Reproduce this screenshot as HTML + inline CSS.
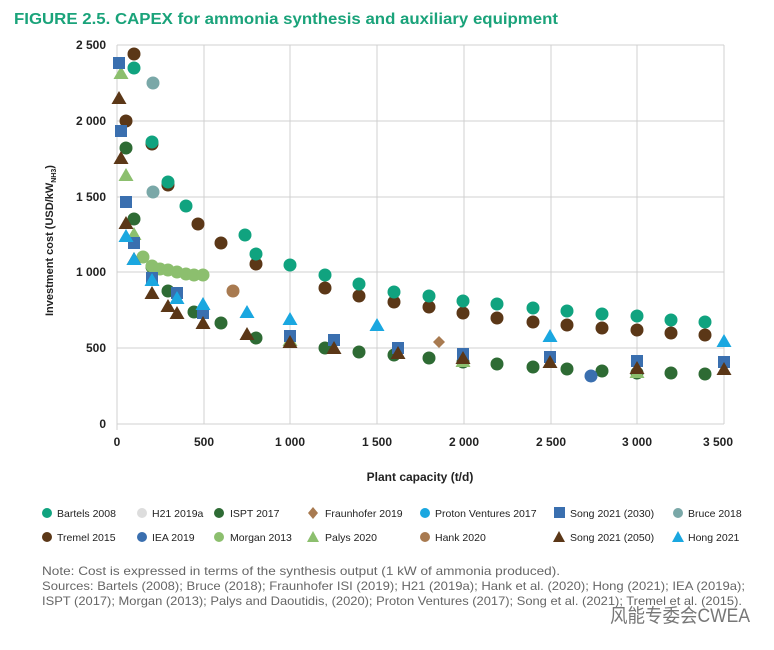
<!DOCTYPE html>
<html><head><meta charset="utf-8"><style>
body{margin:0;background:#fff;width:774px;height:645px;overflow:hidden;font-family:"Liberation Sans","Noto Sans CJK SC",sans-serif}
</style></head><body>
<svg width="774" height="645" xmlns="http://www.w3.org/2000/svg" font-family="Liberation Sans, Noto Sans CJK SC, sans-serif">
<defs>
<g id="c"><circle r="6.5"/></g>
<g id="s"><rect x="-6" y="-6" width="12" height="12"/></g>
<g id="t"><polygon points="0,-7 7.5,6 -7.5,6"/></g>
</defs>
<text x="14" y="24" font-size="15.5" font-weight="bold" fill="#1aa37a" textLength="544" lengthAdjust="spacingAndGlyphs">FIGURE 2.5.   CAPEX for ammonia synthesis and auxiliary equipment</text>
<g stroke="#d0d0d0" stroke-width="1">
<line x1="117" y1="45" x2="724" y2="45"/><line x1="117" y1="121" x2="724" y2="121"/><line x1="117" y1="197" x2="724" y2="197"/><line x1="117" y1="272" x2="724" y2="272"/><line x1="117" y1="348" x2="724" y2="348"/>
<line x1="204" y1="45" x2="204" y2="424"/><line x1="290" y1="45" x2="290" y2="424"/><line x1="377" y1="45" x2="377" y2="424"/><line x1="464" y1="45" x2="464" y2="424"/><line x1="551" y1="45" x2="551" y2="424"/><line x1="637" y1="45" x2="637" y2="424"/><line x1="724" y1="45" x2="724" y2="424"/>
<line x1="117" y1="45" x2="117" y2="430"/><line x1="117" y1="424" x2="724" y2="424"/>
</g>
<g font-size="12" font-weight="bold" fill="#222" text-anchor="end">
<text x="106" y="49">2 500</text><text x="106" y="125">2 000</text><text x="106" y="201">1 500</text><text x="106" y="276">1 000</text><text x="106" y="352">500</text><text x="106" y="428">0</text>
</g>
<g font-size="12" font-weight="bold" fill="#222" text-anchor="middle">
<text x="117" y="446">0</text><text x="204" y="446">500</text><text x="290" y="446">1 000</text><text x="377" y="446">1 500</text><text x="464" y="446">2 000</text><text x="551" y="446">2 500</text><text x="637" y="446">3 000</text><text x="718" y="446">3 500</text>
<text x="420" y="481">Plant capacity (t/d)</text>
</g>
<text transform="translate(53,316) rotate(-90)" font-size="11" font-weight="bold" fill="#222">Investment cost (USD/kW<tspan font-size="7" dy="3">NH3</tspan><tspan dy="-3">)</tspan></text>

<g fill="#5b3717">
<use href="#c" x="134" y="54"/><use href="#c" x="126" y="121"/><use href="#c" x="152" y="144"/><use href="#c" x="168" y="185"/><use href="#c" x="198" y="224"/><use href="#c" x="221" y="243"/><use href="#c" x="256" y="264"/><use href="#c" x="325" y="288"/><use href="#c" x="359" y="296"/><use href="#c" x="394" y="302"/><use href="#c" x="429" y="307"/><use href="#c" x="463" y="313"/><use href="#c" x="497" y="318"/><use href="#c" x="533" y="322"/><use href="#c" x="567" y="325"/><use href="#c" x="602" y="328"/><use href="#c" x="637" y="330"/><use href="#c" x="671" y="333"/><use href="#c" x="705" y="335"/>
</g>
<g fill="#10a37f">
<use href="#c" x="134" y="68"/><use href="#c" x="152" y="142"/><use href="#c" x="168" y="182"/><use href="#c" x="186" y="206"/><use href="#c" x="245" y="235"/><use href="#c" x="256" y="254"/><use href="#c" x="290" y="265"/><use href="#c" x="325" y="275"/><use href="#c" x="359" y="284"/><use href="#c" x="394" y="292"/><use href="#c" x="429" y="296"/><use href="#c" x="463" y="301"/><use href="#c" x="497" y="304"/><use href="#c" x="533" y="308"/><use href="#c" x="567" y="311"/><use href="#c" x="602" y="314"/><use href="#c" x="637" y="316"/><use href="#c" x="671" y="320"/><use href="#c" x="705" y="322"/>
</g>
<g fill="#7aa8a8"><use href="#c" x="153" y="83"/><use href="#c" x="153" y="192"/></g>
<g fill="#a87a50"><use href="#c" x="233" y="291"/><polygon points="439,336 445,342 439,348 433,342"/></g>
<g fill="#2e6b34">
<use href="#c" x="126" y="148"/><use href="#c" x="134" y="219"/><use href="#c" x="152" y="267"/><use href="#c" x="168" y="291"/><use href="#c" x="194" y="312"/><use href="#c" x="221" y="323"/><use href="#c" x="256" y="338"/><use href="#c" x="325" y="348"/><use href="#c" x="359" y="352"/><use href="#c" x="394" y="355"/><use href="#c" x="429" y="358"/><use href="#c" x="463" y="362"/><use href="#c" x="497" y="364"/><use href="#c" x="533" y="367"/><use href="#c" x="567" y="369"/><use href="#c" x="602" y="371"/><use href="#c" x="637" y="373"/><use href="#c" x="671" y="373"/><use href="#c" x="705" y="374"/>
</g>
<g fill="#8cbf6e">
<use href="#c" x="143" y="257"/><use href="#c" x="152" y="266"/><use href="#c" x="160" y="269"/><use href="#c" x="168" y="270"/><use href="#c" x="177" y="272"/><use href="#c" x="186" y="274"/><use href="#c" x="194" y="275"/><use href="#c" x="203" y="275"/>
<use href="#t" x="121" y="73"/><use href="#t" x="126" y="175"/><use href="#t" x="134" y="234"/><use href="#t" x="290" y="340"/><use href="#t" x="463" y="361"/><use href="#t" x="637" y="372"/>
</g>
<g fill="#3a6faf">
<use href="#s" x="119" y="63"/><use href="#s" x="121" y="131"/><use href="#s" x="126" y="202"/><use href="#s" x="134" y="243"/><use href="#s" x="152" y="278"/><use href="#s" x="177" y="293"/><use href="#s" x="203" y="313"/><use href="#s" x="290" y="336"/><use href="#s" x="334" y="340"/><use href="#s" x="398" y="348"/><use href="#s" x="463" y="354"/><use href="#s" x="550" y="357"/><use href="#s" x="637" y="361"/><use href="#s" x="724" y="362"/>
<use href="#c" x="591" y="376"/>
</g>
<g fill="#5b3717">
<use href="#t" x="119" y="98"/><use href="#t" x="121" y="158"/><use href="#t" x="126" y="223"/><use href="#t" x="134" y="259"/><use href="#t" x="152" y="293"/><use href="#t" x="168" y="306"/><use href="#t" x="177" y="313"/><use href="#t" x="203" y="323"/><use href="#t" x="247" y="334"/><use href="#t" x="290" y="342"/><use href="#t" x="334" y="348"/><use href="#t" x="398" y="353"/><use href="#t" x="463" y="358"/><use href="#t" x="550" y="362"/><use href="#t" x="637" y="368"/><use href="#t" x="724" y="369"/>
</g>
<g fill="#1aa7e0">
<use href="#t" x="126" y="236"/><use href="#t" x="134" y="259"/><use href="#t" x="152" y="280"/><use href="#t" x="177" y="298"/><use href="#t" x="203" y="304"/><use href="#t" x="247" y="312"/><use href="#t" x="290" y="319"/><use href="#t" x="377" y="325"/><use href="#t" x="550" y="336"/><use href="#t" x="724" y="341"/>
</g>

<g font-size="10.5" fill="#222">
<circle cx="47" cy="513" r="5" fill="#10a37f"/><text x="57" y="517">Bartels 2008</text>
<circle cx="142" cy="513" r="5" fill="#ddd"/><text x="152" y="517">H21 2019a</text>
<circle cx="219" cy="513" r="5" fill="#2e6b34"/><text x="230" y="517">ISPT 2017</text>
<polygon points="313,507 318,513 313,519 308,513" fill="#a87a50"/><text x="325" y="517">Fraunhofer 2019</text>
<circle cx="425" cy="513" r="5" fill="#1aa7e0"/><text x="435" y="517">Proton Ventures 2017</text>
<rect x="554" y="507" width="11" height="11" fill="#3a6faf"/><text x="570" y="517">Song 2021 (2030)</text>
<circle cx="678" cy="513" r="5" fill="#7aa8a8"/><text x="688" y="517">Bruce 2018</text>
<circle cx="47" cy="537" r="5" fill="#5b3717"/><text x="57" y="541">Tremel 2015</text>
<circle cx="142" cy="537" r="5" fill="#3a6faf"/><text x="152" y="541">IEA 2019</text>
<circle cx="219" cy="537" r="5" fill="#8cbf6e"/><text x="230" y="541">Morgan 2013</text>
<polygon points="313,531 319,542 307,542" fill="#8cbf6e"/><text x="325" y="541">Palys 2020</text>
<circle cx="425" cy="537" r="5" fill="#a87a50"/><text x="435" y="541">Hank 2020</text>
<polygon points="559,531 565,542 553,542" fill="#5b3717"/><text x="570" y="541">Song 2021 (2050)</text>
<polygon points="678,531 684,542 672,542" fill="#1aa7e0"/><text x="688" y="541">Hong 2021</text>
</g>
<g font-size="12" fill="#666">
<text x="42" y="575" textLength="518" lengthAdjust="spacingAndGlyphs">Note: Cost is expressed in terms of the synthesis output (1 kW of ammonia produced).</text>
<text x="42" y="590" textLength="703" lengthAdjust="spacingAndGlyphs">Sources: Bartels (2008); Bruce (2018); Fraunhofer ISI (2019); H21 (2019a); Hank et al. (2020); Hong (2021); IEA (2019a);</text>
<text x="42" y="605" textLength="700" lengthAdjust="spacingAndGlyphs">ISPT (2017); Morgan (2013); Palys and Daoutidis, (2020); Proton Ventures (2017); Song et al. (2021); Tremel et al. (2015).</text>
</g>
<text x="610" y="622" font-size="19" fill="#777" textLength="140" lengthAdjust="spacingAndGlyphs">风能专委会CWEA</text>
</svg>
</body></html>
